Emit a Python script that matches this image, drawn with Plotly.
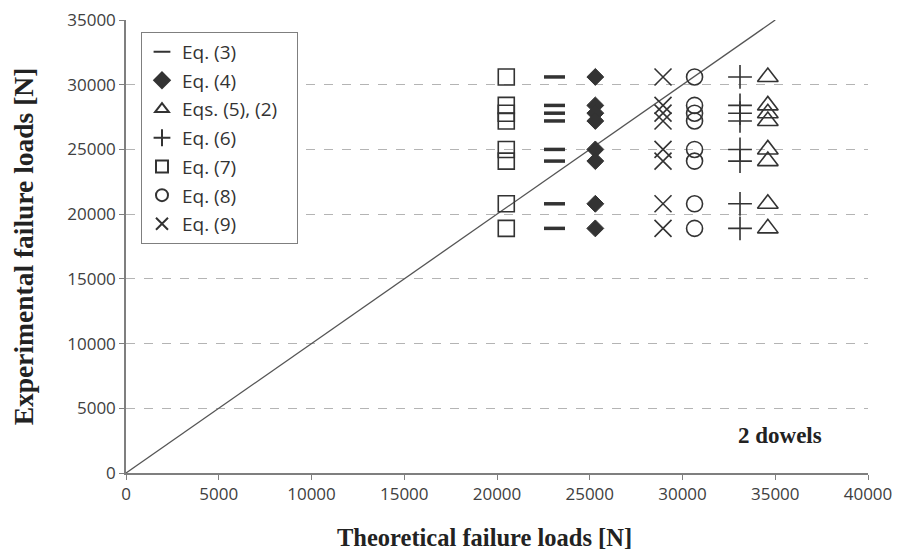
import plotly.graph_objects as go

# Experimental failure loads (N) of the specimens
experimental = [30600, 28400, 27800, 27200, 25000, 24100, 20800, 18900]

# Theoretical failure loads (N) per equation
equations = ["Eq. (3)", "Eq. (4)", "Eqs. (5), (2)", "Eq. (6)", "Eq. (7)", "Eq. (8)", "Eq. (9)"]
theoretical = [23100, 25300, 34600, 33100, 20500, 30650, 28950]

# 1:1 reference line
ref_x = [0, 35000]
ref_y = [0, 35000]

x_ticks = list(range(0, 40001, 5000))
y_ticks = list(range(0, 35001, 5000))
x_labels = [str(v) for v in x_ticks]
y_labels = [str(v) for v in y_ticks]

symbols = ["line-ew", "diamond", "triangle-up-open", "cross-thin", "square-open", "circle-open", "x-thin"]
sizes = [15, 13, 18, 17, 16, 16, 17]
widths = [3.5, 1, 1.6, 1.6, 1.6, 1.6, 1.6]
dark = "#333333"

fig = go.Figure()
fig.add_trace(go.Scatter(x=ref_x, y=ref_y, mode="lines",
                         line=dict(color="#555555", width=1.3), showlegend=False, hoverinfo="skip"))
for name, tx, sym, sz, lw in zip(equations, theoretical, symbols, sizes, widths):
    label = name + "\u00a0\u00a0\u00a0" if name == "Eqs. (5), (2)" else name
    fig.add_trace(go.Scatter(
        x=[tx] * len(experimental), y=experimental, mode="markers", name=label,
        legendgroup=name,
        marker=dict(symbol=sym, size=sz, color=dark, line=dict(color=dark, width=lw)),
    ))

fig.add_annotation(x=35250, y=2900, text="<b>2 dowels</b>", showarrow=False,
                   xanchor="center", yanchor="middle",
                   font=dict(family="Liberation Serif", size=23, color="#222222"))

fig.add_annotation(x=0.4825, y=0, xref="paper", yref="paper", yshift=-64,
                   text="<b>Theoretical failure loads [N]</b>", showarrow=False,
                   xanchor="center", yanchor="middle",
                   font=dict(family="Liberation Serif", size=24.5, color="#222222"))

fig.update_layout(
    width=896, height=546,
    margin=dict(l=118, r=36, t=12, b=81, autoexpand=False),
    plot_bgcolor="white", paper_bgcolor="white",
    font=dict(family="Open Sans", size=17, color="#404040"),
    legend=dict(x=0.0202, y=0.974, xanchor="left", yanchor="top",
                bordercolor="#7f7f7f", borderwidth=1, bgcolor="white",
                font=dict(family="Open Sans", size=19, color="#333333"),
                itemsizing="constant", tracegroupgap=1, traceorder="grouped",
                itemwidth=30),
    xaxis=dict(range=[0, 40000], tickvals=x_ticks, ticktext=x_labels, showgrid=False, zeroline=False,
               showline=True, linecolor="#7f7f7f", linewidth=1.5, automargin=False,
               ticks="outside", ticklen=5, tickcolor="#7f7f7f",
               ticklabeloverflow="allow",
               tickfont=dict(family="Open Sans", size=17, color="#404040")),
    yaxis=dict(range=[0, 35000], tickvals=y_ticks, ticktext=y_labels, showgrid=True, gridcolor="#b4b4b4",
               griddash="dash", gridwidth=1, zeroline=False, automargin=False,
               showline=True, linecolor="#7f7f7f", linewidth=1.5,
               ticks="outside", ticklen=5, tickcolor="#7f7f7f",
               ticklabeloverflow="allow",
               tickfont=dict(family="Open Sans", size=17, color="#404040"),
               title=dict(text="<b>Experimental failure loads [N]</b>", standoff=30,
                          font=dict(family="Liberation Serif", size=27.5, color="#222222"))),
)

fig.write_html("out.html")
